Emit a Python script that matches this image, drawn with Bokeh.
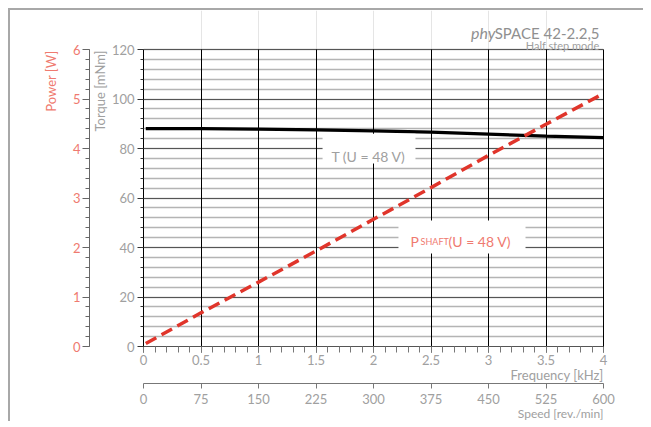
from bokeh.plotting import figure
from bokeh.models import (Range1d, LinearAxis, SingleIntervalTicker, NumeralTickFormatter,
                          Label, BoxAnnotation, Grid, FixedTicker, Title)
from bokeh.embed import file_html
from bokeh.resources import INLINE

# ---- data ----
freq_T = [0.02, 0.5, 1.0, 1.5, 2.0, 2.5, 3.0, 3.5, 4.0]
torque = [88.0, 88.0, 87.8, 87.5, 87.1, 86.6, 85.8, 85.0, 84.4]
freq_P = [0.02, 0.5, 1.0, 1.5, 2.0, 2.5, 3.0, 3.5, 4.0]
power = [0.06, 0.68, 1.30, 1.93, 2.57, 3.21, 3.86, 4.49, 5.11]
title_main = "SPACE 42-2.2,5"
title_prefix = "phy"
subtitle = "Half step mode"
torque_label = "Torque [mNm]"
power_label = "Power [W]"
freq_label = "Frequency [kHz]"
speed_label = "Speed [rev./min]"

FONT = "Lato"
GRAY = "#a0a0a0"
RED_TXT = "#ef7a70"
RED_LINE = "#e0352b"

# layout constants (pixels)
FRAME_H = 336
FRAME_W = 460
PX_PER_UNIT = 2.475            # torque units -> px
Y_TOP = FRAME_H / PX_PER_UNIT  # data value at frame top (title area above 120)

p = figure(frame_width=FRAME_W, frame_height=FRAME_H, output_backend="svg", toolbar_location=None,
           x_range=Range1d(0, 4), y_range=Range1d(0, Y_TOP),
           x_axis_location=None, y_axis_location=None,
           min_border_left=133, min_border_right=40, min_border_top=0, min_border_bottom=0)
p.styles = {"border-left": "2px solid #a8a8a8", "border-top": "2px solid #a8a8a8",
            "margin-left": "8px", "margin-top": "8px"}
p.outline_line_color = None
p.extra_x_ranges = {"speed": Range1d(0, 600)}
p.extra_y_ranges = {"power": Range1d(0, 6 * Y_TOP / 120)}

# horizontal grid
p.add_layout(Grid(dimension=1, ticker=SingleIntervalTicker(interval=20, num_minor_ticks=5),
                  bounds=(0, 120),
                  grid_line_color="#555555", grid_line_width=1.2,
                  minor_grid_line_color="#b4b4b4", minor_grid_line_width=1.5))

# vertical grid limited to 0..120
p.add_layout(Grid(dimension=0, ticker=SingleIntervalTicker(interval=0.5), cross_bounds=(0, 120),
                  grid_line_color="black", grid_line_width=1))


def style_axis(ax, label_color, tick_color="#666666"):
    ax.major_label_text_font = FONT
    ax.major_label_text_font_size = "13px"
    ax.major_label_text_color = label_color
    ax.major_tick_line_color = tick_color
    ax.minor_tick_line_color = tick_color
    ax.axis_line_color = tick_color
    ax.major_tick_in = 0
    ax.minor_tick_in = 0


def axis_title(text, color, standoff, offset=0, valign="bottom", size="13px"):
    return Title(text=text, align="right", text_font=FONT, text_font_size=size,
                 text_font_style="normal", text_color=color, standoff=standoff, offset=offset,
                 vertical_align=valign)


# torque axis (inner left)
ty = LinearAxis(ticker=SingleIntervalTicker(interval=20, num_minor_ticks=5), bounds=(0, 120))
style_axis(ty, GRAY, "#333333")
ty.axis_line_color = "black"
ty.major_tick_out = 6
ty.minor_tick_out = 3
ty.major_label_standoff = 3
p.add_layout(ty, "left")
p.add_layout(axis_title(torque_label, GRAY, 1, 40), "left")

# power axis (outer left)
py = LinearAxis(y_range_name="power", ticker=SingleIntervalTicker(interval=1, num_minor_ticks=5),
                bounds=(0, 6))
style_axis(py, RED_TXT, "#666666")
py.major_tick_out = 7
py.minor_tick_out = 4
py.major_label_standoff = 2
p.add_layout(py, "left")
p.add_layout(axis_title(power_label, RED_TXT, 22, 40), "left")

# right frame edge
ry = LinearAxis(ticker=FixedTicker(ticks=[]), bounds=(0, 120), axis_line_color="black",
                major_tick_out=0, major_tick_in=0, minor_tick_out=0, minor_tick_in=0,
                major_label_standoff=0)
p.add_layout(ry, "right")

# frequency axis
fx = LinearAxis(ticker=SingleIntervalTicker(interval=0.5, num_minor_ticks=5),
                formatter=NumeralTickFormatter(format="0.[0]"))
style_axis(fx, GRAY, "#777777")
fx.axis_line_color = "#555555"
fx.major_tick_line_color = "#333333"
fx.major_tick_out = 6
fx.minor_tick_out = 6
fx.major_label_standoff = 2
p.add_layout(fx, "below")
p.add_layout(axis_title(freq_label, GRAY, -2, valign="top"), "below")

# spacer between the two bottom axes
sp = LinearAxis(ticker=FixedTicker(ticks=[]), axis_line_color=None,
                major_tick_line_color=None, minor_tick_line_color=None,
                major_tick_out=5, major_tick_in=0, minor_tick_out=0, minor_tick_in=0,
                major_label_standoff=0)
p.add_layout(sp, "below")

# speed axis
sx = LinearAxis(x_range_name="speed", ticker=SingleIntervalTicker(interval=75, num_minor_ticks=0))
style_axis(sx, GRAY, "#777777")
sx.major_tick_out = 5
sx.major_label_standoff = 5
p.add_layout(sx, "below")
p.add_layout(axis_title(speed_label, GRAY, -2, valign="top", size="12px"), "below")

# curves
p.line(freq_T, torque, line_color="black", line_width=3.2)
p.line(freq_P, power, y_range_name="power", line_color=RED_LINE, line_width=3.5, line_dash="12 6")

# curve labels with white boxes
p.add_layout(BoxAnnotation(left=1.557, right=2.365, bottom=73.9, top=86.0,
                           fill_color="white", fill_alpha=1, line_color=None))
p.add_layout(BoxAnnotation(left=2.217, right=3.322, bottom=37.6, top=50.9,
                           fill_color="white", fill_alpha=1, line_color=None))
p.add_layout(Label(x=1.957, y=76.8, text="T (U = 48 V)", text_align="center",
                   text_baseline="alphabetic", text_font=FONT, text_font_size="14px",
                   text_color=GRAY))
p.add_layout(Label(x=2.322, y=42.4, text="P", text_align="left",
                   text_baseline="alphabetic", text_font=FONT, text_font_size="14px",
                   text_color=RED_TXT))
p.add_layout(Label(x=2.322, y=42.4, x_offset=10, text="SHAFT", text_align="left",
                   text_baseline="alphabetic", text_font=FONT, text_font_size="9px",
                   text_color=RED_TXT))
p.add_layout(Label(x=2.322, y=42.4, x_offset=38, text="(U = 48 V)", text_align="left",
                   text_baseline="alphabetic", text_font=FONT, text_font_size="14px",
                   text_color=RED_TXT))

# titles (inside the extended frame, above the 120 line)
p.add_layout(Label(x=4, y=120 + 17 / PX_PER_UNIT, x_offset=-4, text=title_main, text_align="right",
                   text_baseline="alphabetic", text_font=FONT, text_font_size="15px",
                   text_color="#909090"))
p.add_layout(Label(x=4, y=120 + 17 / PX_PER_UNIT, x_offset=-108, text=title_prefix,
                   text_align="right", text_baseline="alphabetic", text_font=FONT,
                   text_font_size="16px", text_font_style="italic", text_color="#909090"))
p.add_layout(Label(x=4, y=120 + 4 / PX_PER_UNIT, x_offset=-4, text=subtitle, text_align="right",
                   text_baseline="alphabetic", text_font=FONT, text_font_size="11px",
                   text_color=GRAY))

open("out.html", "w").write(file_html(p, INLINE))
